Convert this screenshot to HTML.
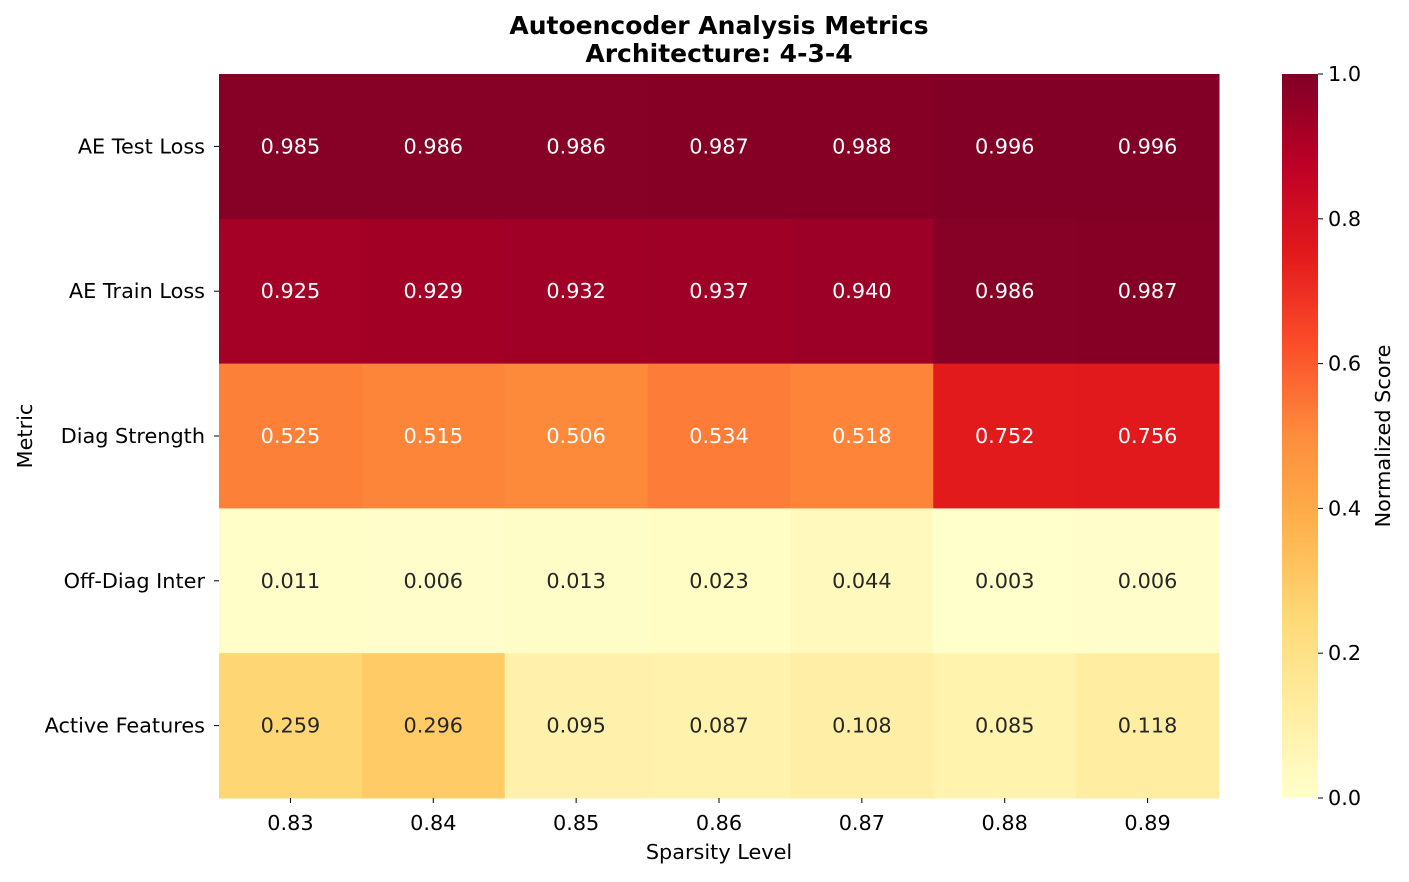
<!DOCTYPE html>
<html><head><meta charset="utf-8"><style>
body{margin:0;background:#fff;}
svg text{font-family:"DejaVu Sans","Liberation Sans",sans-serif;}
</style></head><body>
<svg id="chart" width="1409" height="877" xmlns="http://www.w3.org/2000/svg">
<defs><linearGradient id="cb" x1="0" y1="1" x2="0" y2="0">
<stop offset="0" stop-color="#ffffcc"/><stop offset="0.125" stop-color="#ffeda0"/><stop offset="0.25" stop-color="#fed976"/><stop offset="0.375" stop-color="#feb24c"/><stop offset="0.5" stop-color="#fd8d3c"/><stop offset="0.625" stop-color="#fc4e2a"/><stop offset="0.75" stop-color="#e31a1c"/><stop offset="0.875" stop-color="#bd0026"/><stop offset="1" stop-color="#800026"/>
</linearGradient></defs>
<text x="719" y="34" text-anchor="middle" font-size="25" font-weight="bold">Autoencoder Analysis Metrics</text>
<text x="719" y="62" text-anchor="middle" font-size="25" font-weight="bold">Architecture: 4-3-4</text>
<g id="cells"></g>
<text x="719" y="859" text-anchor="middle" font-size="20.8">Sparsity Level</text>
<text transform="translate(32,436) rotate(-90)" text-anchor="middle" font-size="20.8">Metric</text>
<rect x="1282" y="74" width="36" height="724" fill="url(#cb)"/>
<g id="cbticks"></g>
<text transform="translate(1390,436) rotate(-90)" text-anchor="middle" font-size="20.8">Normalized Score</text>
</svg>
<script>
const categories = ["0.83","0.84","0.85","0.86","0.87","0.88","0.89"];
const metrics = ["AE Test Loss","AE Train Loss","Diag Strength","Off-Diag Inter","Active Features"];
const testLoss = [0.985,0.986,0.986,0.987,0.988,0.996,0.996];
const trainLoss = [0.925,0.929,0.932,0.937,0.940,0.986,0.987];
const diagStrength = [0.525,0.515,0.506,0.534,0.518,0.752,0.756];
const offDiag = [0.011,0.006,0.013,0.023,0.044,0.003,0.006];
const activeFeatures = [0.259,0.296,0.095,0.087,0.108,0.085,0.118];
const cbTicks = [0,0.2,0.4,0.6,0.8,1.0];

const rows = [testLoss,trainLoss,diagStrength,offDiag,activeFeatures];
const NS="http://www.w3.org/2000/svg";
const X0=219,X1=1219,Y0=74,Y1=798;
const cw=(X1-X0)/categories.length, rh=(Y1-Y0)/metrics.length;
const xPos=i=>X0+i*cw, yPos=j=>Y0+j*rh;
const cbY=v=>Y1-v*(Y1-Y0);
const stops=["#ffffcc","#ffeda0","#fed976","#feb24c","#fd8d3c","#fc4e2a","#e31a1c","#bd0026","#800026"];
function hex(h){return [1,3,5].map(k=>parseInt(h.substr(k,2),16));}
function cmap(v){v=Math.max(0,Math.min(1,v));const p=v*8,i=Math.min(7,Math.floor(p)),t=p-i;
 const a=hex(stops[i]),b=hex(stops[i+1]);return "rgb("+a.map((c,k)=>Math.round(c+(b[k]-c)*t)).join(",")+")";}
function el(tag,attrs,parent){const e=document.createElementNS(NS,tag);for(const k in attrs)e.setAttribute(k,attrs[k]);parent.appendChild(e);return e;}
const g=document.getElementById("cells"), svg=document.getElementById("chart");
rows.forEach((row,j)=>{
 row.forEach((v,i)=>{
  const r=el("rect",{x:xPos(i),y:yPos(j),width:cw+0.5,height:rh+0.5,fill:cmap(v)},g);
  
  
  const t=el("text",{x:xPos(i)+cw/2,y:yPos(j)+rh/2+7,"text-anchor":"middle","font-size":"20.8",fill:v>=0.45?"#fff":"#262626"},g);
  
  
  t.textContent=v.toFixed(3);
 });
 const tk=el("line",{x1:X0-5,x2:X0,y1:yPos(j)+rh/2,y2:yPos(j)+rh/2,stroke:"#000"},svg);
 
 
 const l=el("text",{x:X0-14,y:yPos(j)+rh/2+7,"text-anchor":"end","font-size":"20.8"},svg);
 
 
 l.textContent=metrics[j];
});
categories.forEach((c,i)=>{
 const tk=el("line",{x1:xPos(i)+cw/2,x2:xPos(i)+cw/2,y1:Y1,y2:Y1+5,stroke:"#000"},svg);
 
 
 const l=el("text",{x:xPos(i)+cw/2,y:Y1+32,"text-anchor":"middle","font-size":"20.8"},svg);
 
 
 l.textContent=c;
});
const cg=document.getElementById("cbticks");
cbTicks.forEach(v=>{
 const tk=el("line",{x1:1318,x2:1323,y1:cbY(v),y2:cbY(v),stroke:"#000"},cg);
 
 
 const l=el("text",{x:1328,y:cbY(v)+7,"font-size":"20.8"},cg);
 
 
 l.textContent=v.toFixed(1);
});
</script>
</body></html>
